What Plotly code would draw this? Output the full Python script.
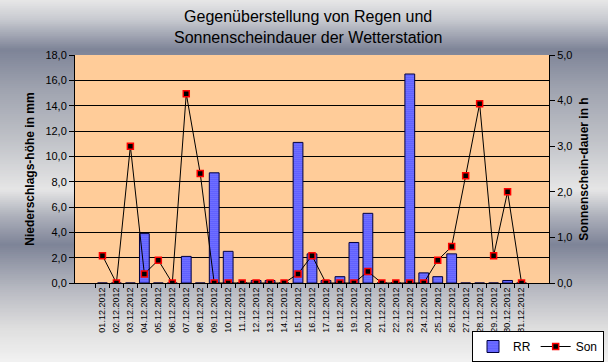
import plotly.graph_objects as go
import numpy as np

days = [f"{d:02d}.12.2012" for d in range(1, 32)]
rain = [0, 0, 0, 3.9, 0, 0, 2.1, 0, 8.7, 2.5, 0, 0.2, 0.2, 0, 11.1, 2.3, 0.2, 0.5, 3.2, 5.5,
        0, 0, 16.5, 0.8, 0.5, 2.3, 0, 0, 0, 0.2, 0]
sun = [0.6, 0, 3.0, 0.2, 0.5, 0, 4.15, 2.4, 0, 0, 0, 0, 0, 0, 0.2, 0.6, 0, 0, 0, 0.25,
       0, 0, 0, 0, 0.5, 0.8, 2.35, 3.93, 0.6, 2.0, 0]
left_ticks = [0, 2, 4, 6, 8, 10, 12, 14, 16, 18]
left_labels = ["0,0", "2,0", "4,0", "6,0", "8,0", "10,0", "12,0", "14,0", "16,0", "18,0"]
right_ticks = [0, 1, 2, 3, 4, 5]
right_labels = ["0,0", "1,0", "2,0", "3,0", "4,0", "5,0"]
title_text = "Gegenüberstellung von Regen und<br>Sonnenscheindauer der Wetterstation"

W, H = 608, 362
L, R, T, B = 75, 59, 55, 79
PW, PH = W - L - R, H - T - B
FONT = "Liberation Sans, Arial, sans-serif"

fig = go.Figure()
fig.add_trace(go.Bar(
    x=days, y=rain, name="RR",
    marker=dict(color="#3333ff", line=dict(color="#000040", width=1),
                pattern=dict(shape=".", fgcolor="white", bgcolor="#3333ff", size=2, solidity=0.6)),
))
fig.add_trace(go.Scatter(
    x=days, y=sun, name="Son", yaxis="y2", mode="lines+markers",
    line=dict(color="black", width=1),
    marker=dict(symbol="square", size=6, color="black", line=dict(color="#ff0000", width=1.5)),
))

# background gradient (vertical bands)
stops_y = [0, 20, 50, 90, 140, 190, 215, 245, 290, 330, 362]
stops_c = ["#e8e8e8", "#c8cad0", "#7e8498", "#a0a4b0", "#c0c2c8", "#e6e6e6",
           "#b0b3bd", "#7e8498", "#b8bac2", "#e0e0e0", "#f2f2f2"]
def hex2rgb(h):
    return [int(h[i:i + 2], 16) for i in (1, 3, 5)]
rgbs = np.array([hex2rgb(c) for c in stops_c])
shapes = []
step = 2
for y0 in range(0, H, step):
    yc = y0 + step / 2
    col = [int(np.interp(yc, stops_y, rgbs[:, k])) for k in range(3)]
    shapes.append(dict(type="rect", xref="paper", yref="paper", layer="below",
                       x0=-L / PW, x1=(W - L) / PW,
                       y0=(T + PH - (y0 + step)) / PH, y1=(T + PH - y0) / PH + 0.001,
                       fillcolor=f"rgb({col[0]},{col[1]},{col[2]})", line=dict(width=0)))
# plot area fill on top of gradient
shapes.append(dict(type="rect", xref="paper", yref="paper", layer="below",
                   x0=0, x1=1, y0=0, y1=1, fillcolor="#ffcc99", line=dict(width=0)))

fig.update_layout(
    width=W, height=H,
    margin=dict(l=L, r=R, t=T, b=B, autoexpand=False),
    paper_bgcolor="#c8cad0",
    plot_bgcolor="#ffcc99",
    font=dict(family=FONT, size=11, color="black"),
    shapes=shapes,
    bargap=0.3,
    annotations=[dict(text=title_text, xref="paper", yref="paper",
                      x=(308 - L) / PW, y=(T + PH - 27) / PH, xanchor="center", yanchor="middle",
                      showarrow=False, font=dict(family=FONT, size=16, color="black"))],
    xaxis=dict(type="category", tickangle=-90, tickfont=dict(size=9), automargin=False,
               showline=True, linecolor="black", linewidth=1,
               ticks="outside", tickson="boundaries", ticklen=4, tickcolor="black",
               showgrid=False),
    yaxis=dict(range=[0, 18], tickvals=left_ticks, ticktext=left_labels, automargin=False,
               showgrid=True, gridcolor="black", gridwidth=1,
               showline=True, linecolor="black", ticks="outside", ticklen=5, tickcolor="black",
               zeroline=False,
               title=dict(text="<b>Niederschlags-höhe in mm</b>", font=dict(size=12), standoff=8)),
    yaxis2=dict(range=[0, 5], overlaying="y", side="right", tickvals=right_ticks, ticktext=right_labels,
                automargin=False,
                showgrid=False, showline=True, linecolor="black", ticks="outside", ticklen=5,
                tickcolor="black", zeroline=False,
                title=dict(text="<b>Sonnenschein-dauer in h</b>", font=dict(size=12), standoff=8)),
    legend=dict(orientation="h", x=(604 - L) / PW, xanchor="right", y=(T + PH - 331) / PH, yanchor="top",
                bgcolor="white", bordercolor="black", borderwidth=1, font=dict(size=12),
                tracegroupgap=0, itemwidth=30),
    showlegend=True,
)

fig.write_html("out.html", config={"displayModeBar": False},
               post_script="document.body.style.margin='0';")
